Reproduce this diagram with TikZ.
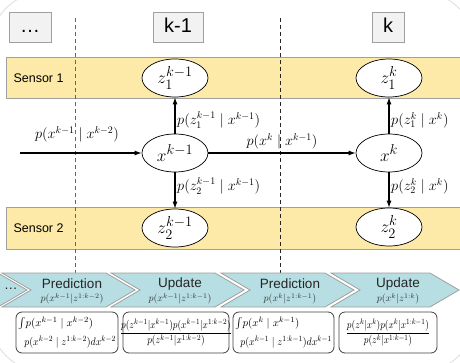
\documentclass[tikz,border=0pt]{standalone}
\usepackage{amsmath}
\usepackage{graphicx}
\usepackage{fontspec}
\setsansfont{Liberation Sans}
\usetikzlibrary{shapes.geometric,arrows.meta}
\definecolor{bandyellow}{HTML}{FDEAA8}
\definecolor{chevfill}{HTML}{B7DEE2}
\definecolor{boxgray}{HTML}{F2F2F2}
\definecolor{edgegray}{HTML}{A0A0A0}
\definecolor{faint}{HTML}{DDDDDD}
\begin{document}
\begin{tikzpicture}[x=1pt,y=-1pt,
  topbox/.style={draw=edgegray,fill=boxgray,inner sep=0pt,text height=15pt,text depth=4pt,font=\sffamily\fontsize{20}{20}\selectfont},
  band/.style={draw=edgegray,fill=bandyellow,line width=0.8pt},
  sensorlbl/.style={font=\sffamily\fontsize{12.5}{13}\selectfont,anchor=west},
  ell/.style={ellipse,draw,fill=white,line width=0.7pt,minimum width=66pt,minimum height=38pt,inner sep=0pt,font=\fontsize{19}{19}\selectfont},
  arr/.style={-{Latex[length=7pt,width=5pt]},line width=1.1pt},
  lbl/.style={inner sep=0pt,font=\fontsize{14}{14}\selectfont},
  dashline/.style={line width=0.8pt,dash pattern=on 4pt off 3pt},
  chev/.style={draw=edgegray,fill=chevfill,line width=0.8pt},
  chevtitle/.style={inner sep=0pt,font=\sffamily\fontsize{13.5}{14}\selectfont,text=black!85},
  chevform/.style={inner sep=0pt,font=\fontsize{10}{10}\selectfont,text=black!80},
  fbox/.style={draw=black!75,fill=white,rounded corners=6pt,line width=0.8pt},
  ftext/.style={inner sep=0pt,font=\fontsize{11}{12}\selectfont}
]
\useasboundingbox (0,0) rectangle (460,363);
% faint outer frame
\begin{scope}
\clip (0,0) rectangle (460,363);
\draw[faint,line width=0.8pt,rounded corners=55pt] (-10,-8) rectangle (475,372);
\end{scope}
% top boxes
\node[topbox,minimum width=42pt,minimum height=30pt] (tdots) at (30,27) {\dots};
\node[topbox,minimum width=50pt,minimum height=30pt] (tkm1) at (178,27) {k-1};
\node[topbox,minimum width=32pt,minimum height=30pt] (tk) at (388,27) {k};
% sensor bands
\draw[band] (6,57) rectangle (462,98);
\draw[band] (6,207) rectangle (462,249);
\node[sensorlbl] (s1) at (10,78) {Sensor 1};
\node[sensorlbl] (s2) at (10,228) {Sensor 2};
% dashed separators
\coordinate (d1t) at (75,18);
\coordinate (d1b) at (75,273);
\coordinate (d2t) at (280,18);
\coordinate (d2b) at (280,273);
\draw[dashline,draw=black!60] (d1t) -- (d1b);
\draw[dashline,draw=black!85] (d2t) -- (d2b);
% ellipses
\node[ell] (z1a) at (175,78) {$z_1^{k-1}$};
\node[ell] (xa) at (175,153) {$x^{k-1}$};
\node[ell] (z2a) at (175,228) {$z_2^{k-1}$};
\node[ell] (z1b) at (389,78) {$z_1^{k}$};
\node[ell] (xb) at (389,153) {$x^{k}$};
\node[ell] (z2b) at (389,227) {$z_2^{k}$};
% arrows
\coordinate (start) at (20,153);
\draw[arr] (start) -- (xa);
\draw[arr] (xa) -- (xb);
\draw[arr] (xa) -- (z1a);
\draw[arr] (xa) -- (z2a);
\draw[arr] (xb) -- (z1b);
\draw[arr] (xb) -- (z2b);
% arrow labels
\node[lbl] (l0) at (77,134) {$p(x^{k-1}\mid x^{k-2})$};
\node[lbl] (l1) at (282,141) {$p(x^{k}\mid x^{k-1})$};
\node[lbl,anchor=west] (l2) at (177,120) {$p(z_1^{k-1}\mid x^{k-1})$};
\node[lbl,anchor=west] (l3) at (177,186) {$p(z_2^{k-1}\mid x^{k-1})$};
\node[lbl,anchor=west] (l4) at (391,120) {$p(z_1^{k}\mid x^{k})$};
\node[lbl,anchor=west] (l5) at (391,186) {$p(z_2^{k}\mid x^{k})$};
% chevrons
\draw[chev] (-10,273) -- (-2,273) -- (27,290) -- (-2,307) -- (-10,307) -- cycle;
\draw[chev] (2,273) -- (106,273) -- (135,290) -- (106,307) -- (2,307) -- (31,290) -- cycle;
\draw[chev] (111,273) -- (215,273) -- (244,290) -- (215,307) -- (111,307) -- (140,290) -- cycle;
\draw[chev] (221,273) -- (325,273) -- (354,290) -- (325,307) -- (221,307) -- (250,290) -- cycle;
\draw[chev] (331,273) -- (430,273) -- (459,290) -- (430,307) -- (331,307) -- (360,290) -- cycle;
\node[chevtitle] (cdots) at (11,289) {\dots};
\node[chevtitle] (c1) at (72,284) {Prediction};
\node[chevform] (c1f) at (72,299) {$p(x^{k-1}|z^{1:k-2})$};
\node[chevtitle] (c2) at (180,284) {Update};
\node[chevform] (c2f) at (180,299) {$p(x^{k-1}|z^{1:k-1})$};
\node[chevtitle] (c3) at (290,284) {Prediction};
\node[chevform] (c3f) at (290,299) {$p(x^{k}|z^{1:k-1})$};
\node[chevtitle] (c4) at (398,284) {Update};
\node[chevform] (c4f) at (398,299) {$p(x^{k}|z^{1:k})$};
% formula boxes
\draw[fbox] (16,312) rectangle (118,353);
\draw[fbox] (123,312) rectangle (229,353);
\draw[fbox] (233,312) rectangle (334,353);
\draw[fbox] (339,312) rectangle (437,353);
\node[ftext,anchor=west] (f1a) at (18,323) {$\int\! p(x^{k-1}\mid x^{k-2})$};
\node[ftext,anchor=east] (f1b) at (116,342) {\scalebox{0.9}[1]{$p(x^{k-2}\mid z^{1:k-2})dx^{k-2}$}};
\node[ftext] (f2) at (176,332.5) {\scalebox{0.85}[1]{$\dfrac{p(z^{k-1}|x^{k-1})p(x^{k-1}|x^{1:k-2})}{p(z^{k-1}|x^{1:k-2})}$}};
\node[ftext,anchor=west] (f3a) at (235,323) {$\int\! p(x^{k}\mid x^{k-1})$};
\node[ftext,anchor=east] (f3b) at (332,342) {\scalebox{0.9}[1]{$p(x^{k-1}\mid z^{1:k-1})dx^{k-1}$}};
\node[ftext] (f4) at (388,332.5) {\scalebox{0.85}[1]{$\dfrac{p(z^{k}|x^{k})p(x^{k}|x^{1:k-1})}{p(z^{k}|x^{1:k-1})}$}};
\end{tikzpicture}
\end{document}
